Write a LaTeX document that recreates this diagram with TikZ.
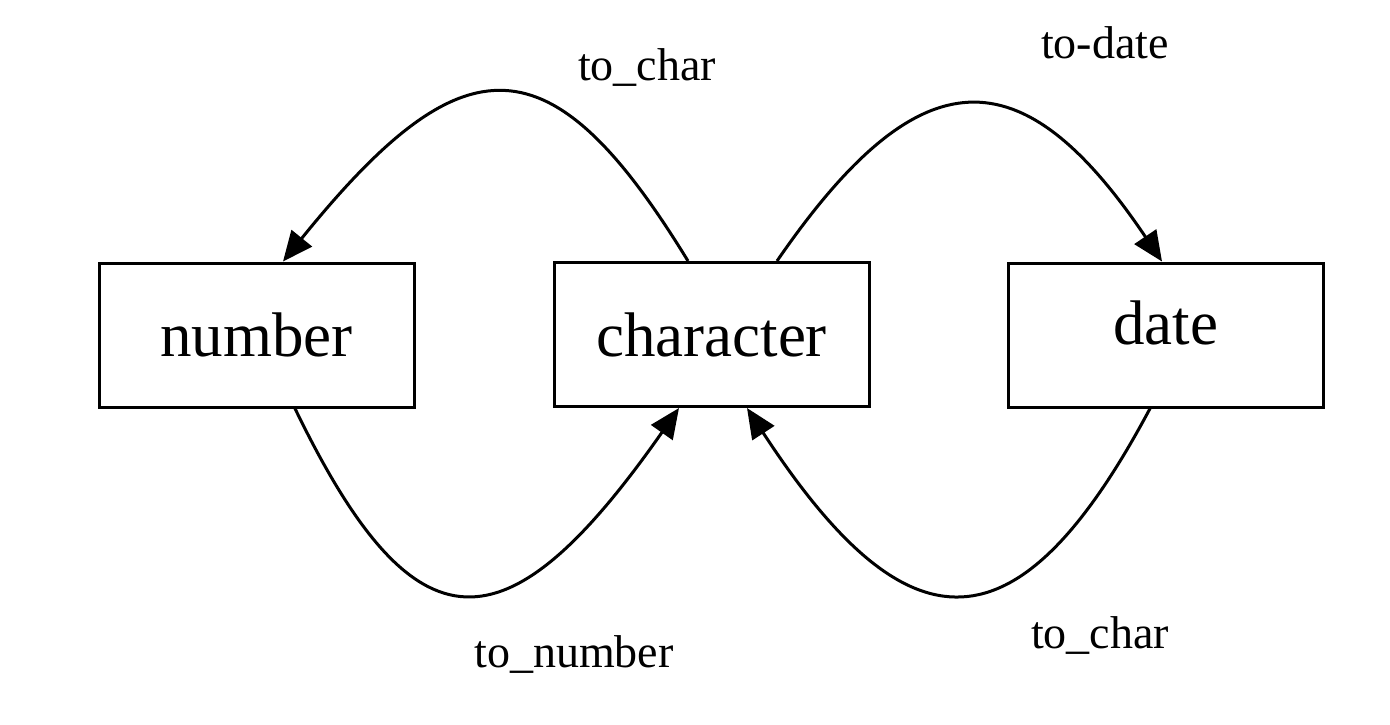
\documentclass[tikz,border=0pt]{standalone}
\usepackage{fontspec}
\setmainfont{Liberation Serif}
\usetikzlibrary{calc,arrows.meta}

\tikzset{
  box/.style={draw,line width=1.5pt,minimum width=157.5pt,minimum height=72pt,
    inner sep=0pt,font=\fontsize{31.5}{36}\selectfont},
  conv/.style={line width=1.5pt,-{Triangle[length=15pt,width=13pt]}},
  lbl/.style={anchor=base,inner sep=0pt,font=\fontsize{23}{27}\selectfont}
}

\begin{document}
\begin{tikzpicture}[x=0.5pt,y=-0.5pt]
\useasboundingbox (0,0) rectangle (1390,724);
\node[box] (number) at (256.5,335) {number};
\node[box] (character) at (711.5,334.5) {character};
\node[box,text depth=12pt] (date) at (1165.5,335) {date};
% upper arcs
\draw[conv] ($(character.north)+(-23.5,0)$) .. controls +(-137,-224) and +(181,-224) .. ($(number.north)+(26.5,0)$);
\draw[conv] ($(character.north)+(65.5,0)$) .. controls +(143,-208) and +(-140,-208) .. ($(date.north)+(-3.5,0)$);
% lower arcs
\draw[conv] ($(number.south)+(38.5,0)$) .. controls +(120,248) and +(-173,247) .. ($(character.south)+(-32.5,0)$);
\draw[conv] ($(date.south)+(-15.5,0)$) .. controls +(-132,248) and +(161,247) .. ($(character.south)+(35.5,0)$);
\node[lbl] (tochar) at (647,80) {to\_char};
\node[lbl] (todate) at (1105,58) {to-date};
\node[lbl] (tonumber) at (574,667) {to\_number};
\node[lbl] (tocharback) at (1100,648) {to\_char};
\end{tikzpicture}
\end{document}
